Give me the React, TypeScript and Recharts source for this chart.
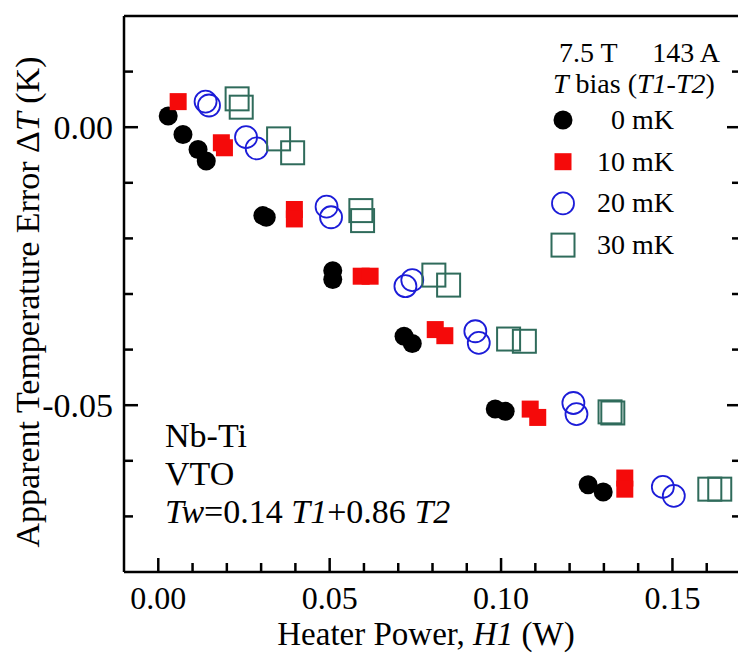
import React from 'react';
import { ScatterChart, Scatter, XAxis, YAxis, Legend, Customized } from 'recharts';

const FONT = '"Liberation Serif", "Times New Roman", Times, serif';

// Heater power H1 (W) and apparent temperature error ΔT (K) for each T bias
const bias0_H = [0.0029, 0.0072, 0.0116, 0.014, 0.0305, 0.0315, 0.0509, 0.0509, 0.0717, 0.0741, 0.0983, 0.1012, 0.1254, 0.1298];
const bias0_dT = [0.002, -0.0013, -0.004, -0.0061, -0.0159, -0.0162, -0.0258, -0.0274, -0.0376, -0.0389, -0.0507, -0.0511, -0.0643, -0.0656];

const bias10_H = [0.0058, 0.0184, 0.0193, 0.0397, 0.0397, 0.0592, 0.0618, 0.0808, 0.0836, 0.1085, 0.1107, 0.1361, 0.1361];
const bias10_dT = [0.0046, -0.0028, -0.0037, -0.0148, -0.0165, -0.0268, -0.0268, -0.0364, -0.0375, -0.0507, -0.0522, -0.0631, -0.0651];

const bias20_H = [0.0138, 0.0148, 0.0256, 0.0287, 0.0491, 0.0504, 0.0721, 0.0741, 0.0925, 0.0935, 0.1211, 0.122, 0.1472, 0.1504];
const bias20_dT = [0.0046, 0.0039, -0.0018, -0.0038, -0.0143, -0.0162, -0.0286, -0.0275, -0.0367, -0.0388, -0.0496, -0.0516, -0.0647, -0.0663];

const bias30_H = [0.023, 0.0242, 0.0351, 0.0392, 0.0591, 0.0596, 0.0804, 0.0847, 0.1022, 0.1068, 0.1318, 0.1326, 0.1609, 0.1638];
const bias30_dT = [0.0051, 0.0036, -0.0021, -0.0046, -0.015, -0.0168, -0.0266, -0.0284, -0.0381, -0.0385, -0.0512, -0.0514, -0.0651, -0.0651];

const seriesNames = ['0 mK', '10 mK', '20 mK', '30 mK'];

const xTicks = [0, 0.01, 0.02, 0.03, 0.04, 0.05, 0.06, 0.07, 0.08, 0.09, 0.1, 0.11, 0.12, 0.13, 0.14, 0.15, 0.16];
const yTicks = [-0.07, -0.06, -0.05, -0.04, -0.03, -0.02, -0.01, 0, 0.01];
const xDomain = [-0.01, 0.17];
const yDomain = [-0.08, 0.02];

const zip = (xs: number[], ys: number[]) => xs.map((x, i) => ({ x, y: ys[i] }));
const data0 = zip(bias0_H, bias0_dT);
const data10 = zip(bias10_H, bias10_dT);
const data20 = zip(bias20_H, bias20_dT);
const data30 = zip(bias30_H, bias30_dT);

const RED = '#f50a0a';
const BLUE = '#1c1cd8';
const GREEN = '#2f6b5b';

const drawMarker = (kind: number, cx: number, cy: number, key?: string) => {
  if (kind === 0) return <circle key={key} cx={cx} cy={cy} r={9.5} fill="#000" />;
  if (kind === 1) return <rect key={key} x={cx - 8.5} y={cy - 8.5} width={17} height={17} fill={RED} />;
  if (kind === 2) return <circle key={key} cx={cx} cy={cy} r={11} fill="none" stroke={BLUE} strokeWidth={1.8} />;
  return <rect key={key} x={cx - 11.5} y={cy - 11.5} width={23} height={23} fill="none" stroke={GREEN} strokeWidth={2} />;
};

const shapeFor = (kind: number) => (props: any) => drawMarker(kind, props.cx, props.cy);

const isMajor = (v: number) => Math.round(v * 100) % 5 === 0;

const makeTick = (side: 'bottom' | 'top' | 'left' | 'right', labeled: boolean) => (props: any) => {
  const { x, y, payload } = props;
  const v = payload.value;
  const L = isMajor(v) ? 14 : 9;
  let line;
  if (side === 'bottom') line = <line x1={x} y1={y} x2={x} y2={y - L} stroke="#000" strokeWidth={2.5} />;
  else if (side === 'top') line = <line x1={x} y1={y} x2={x} y2={y + L} stroke="#000" strokeWidth={2.5} />;
  else if (side === 'left') line = <line x1={x} y1={y} x2={x + L} y2={y} stroke="#000" strokeWidth={2.5} />;
  else line = <line x1={x} y1={y} x2={x - L} y2={y} stroke="#000" strokeWidth={2.5} />;
  let label = null;
  if (labeled && isMajor(v)) {
    if (side === 'bottom')
      label = (
        <text x={x} y={y + 37} textAnchor="middle" fontFamily={FONT} fontSize={32} fill="#000">
          {v.toFixed(2)}
        </text>
      );
    else if (side === 'left')
      label = (
        <text x={x - 11} y={y + 12} textAnchor="end" fontFamily={FONT} fontSize={34} fill="#000">
          {v.toFixed(2)}
        </text>
      );
  }
  return (
    <g>
      {line}
      {label}
    </g>
  );
};

const renderLegend = (props: any) => {
  const payload = props.payload || [];
  return (
    <svg width={160} height={170} style={{ display: 'block', overflow: 'visible' }}>
      {payload.map((entry: any, i: number) => {
        const cy = 20 + i * 41.7;
        return (
          <g key={entry.value}>
            {drawMarker(i, 33, cy)}
            <text x={144} y={cy + 9} textAnchor="end" fontFamily={FONT} fontSize={28} fill="#000">
              {entry.value}
            </text>
          </g>
        );
      })}
    </svg>
  );
};

const Annotations = () => (
  <g fontFamily={FONT} fill="#000">
    <text x={551} y={54} fontSize={28} fontFamily={FONT}>7.5 T</text>
    <text x={712} y={54} fontSize={28} fontFamily={FONT} textAnchor="end">143 A</text>
    <text x={545} y={85} fontSize={28} fontFamily={FONT}>
      <tspan fontStyle="italic">T</tspan>
      <tspan> bias (</tspan>
      <tspan fontStyle="italic">T1-T2</tspan>
      <tspan>)</tspan>
    </text>
    <text x={157} y={439} fontSize={34} fontFamily={FONT}>Nb-Ti</text>
    <text x={157} y={477} fontSize={34} fontFamily={FONT}>VTO</text>
    <text x={157} y={515} fontSize={34} fontFamily={FONT}>
      <tspan fontStyle="italic">Tw</tspan>
      <tspan>=0.14 </tspan>
      <tspan fontStyle="italic">T1</tspan>
      <tspan>+0.86 </tspan>
      <tspan fontStyle="italic">T2</tspan>
    </text>
    <text x={418} y={637} fontSize={33} fontFamily={FONT} textAnchor="middle">
      <tspan>Heater Power, </tspan>
      <tspan fontStyle="italic">H1</tspan>
      <tspan> (W)</tspan>
    </text>
    <text x={31} y={294} fontSize={34} fontFamily={FONT} textAnchor="middle" transform="rotate(-90 31 294)">
      <tspan>Apparent Temperature Error Δ</tspan>
      <tspan fontStyle="italic">T</tspan>
      <tspan> (K)</tspan>
    </text>
  </g>
);

export default function App() {
  const axisLine = { stroke: '#000', strokeWidth: 2.5 };
  return (
    <div style={{ width: 738, height: 645, position: 'relative', background: '#fff' }}>
      <ScatterChart width={738} height={645} margin={{ top: 7, right: 4, bottom: 80, left: 115 }}>
        <XAxis
          xAxisId="main"
          dataKey="x"
          type="number"
          orientation="bottom"
          domain={xDomain}
          ticks={xTicks}
          interval={0}
          height={1}
          tickSize={0}
          tickMargin={0}
          tickLine={false}
          axisLine={axisLine}
          tick={makeTick('bottom', true)}
          allowDataOverflow
        />
        <XAxis
          xAxisId="top"
          type="number"
          orientation="top"
          domain={xDomain}
          ticks={xTicks}
          interval={0}
          height={1}
          tickSize={0}
          tickMargin={0}
          tickLine={false}
          axisLine={axisLine}
          tick={makeTick('top', false)}
          allowDataOverflow
        />
        <YAxis
          yAxisId="main"
          dataKey="y"
          type="number"
          orientation="left"
          domain={yDomain}
          ticks={yTicks}
          interval={0}
          width={1}
          tickSize={0}
          tickMargin={0}
          tickLine={false}
          axisLine={axisLine}
          tick={makeTick('left', true)}
          allowDataOverflow
        />
        <YAxis
          yAxisId="right"
          type="number"
          orientation="right"
          domain={yDomain}
          ticks={yTicks}
          interval={0}
          width={1}
          tickSize={0}
          tickMargin={0}
          tickLine={false}
          axisLine={axisLine}
          tick={makeTick('right', false)}
          allowDataOverflow
        />
        <Scatter name={seriesNames[0]} data={data0} xAxisId="main" yAxisId="main" fill="#000" shape={shapeFor(0)} isAnimationActive={false} />
        <Scatter name={seriesNames[1]} data={data10} xAxisId="main" yAxisId="main" fill={RED} shape={shapeFor(1)} isAnimationActive={false} />
        <Scatter name={seriesNames[2]} data={data20} xAxisId="main" yAxisId="main" fill={BLUE} shape={shapeFor(2)} isAnimationActive={false} />
        <Scatter name={seriesNames[3]} data={data30} xAxisId="main" yAxisId="main" fill={GREEN} shape={shapeFor(3)} isAnimationActive={false} />
        <Legend
          layout="vertical"
          align="center"
          verticalAlign="middle"
          content={renderLegend}
          wrapperStyle={{ left: 522, top: 92, width: 160, height: 170 }}
        />
        <Customized component={Annotations} />
      </ScatterChart>
    </div>
  );
}
